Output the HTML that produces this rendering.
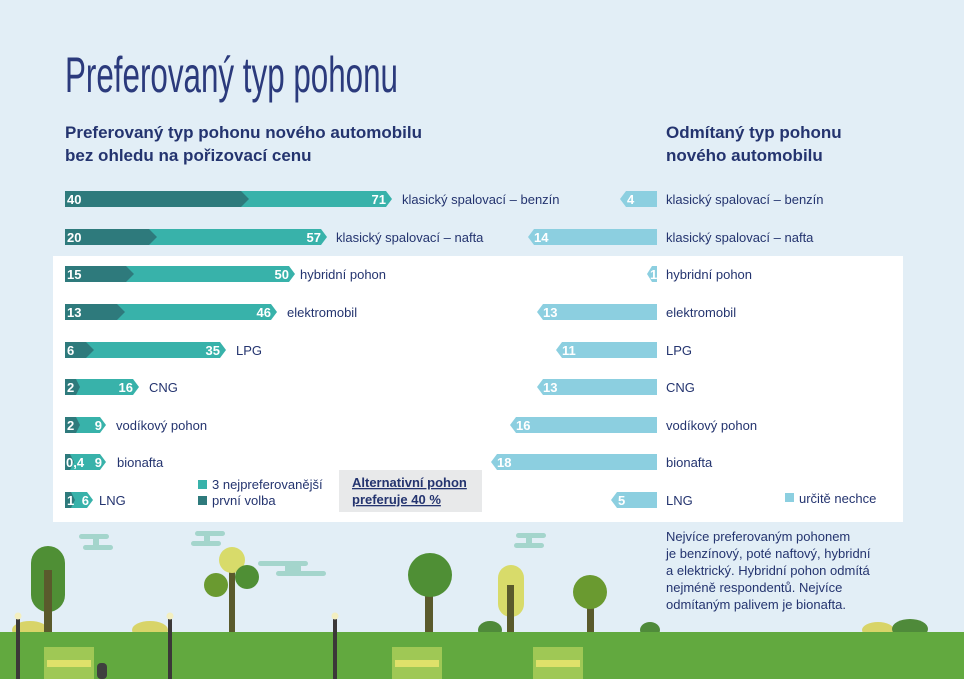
<!DOCTYPE html>
<html><head><meta charset="utf-8"><style>
html,body{margin:0;padding:0;background:#e2eef6;}
svg{display:block;font-family:"Liberation Sans",sans-serif;}
</style></head><body>
<svg width="964" height="679" viewBox="0 0 964 679" xmlns="http://www.w3.org/2000/svg">
<rect width="964" height="679" fill="#e2eef6"/>
<rect x="53" y="256" width="850" height="266" fill="#ffffff"/>
<text x="65" y="92" font-size="50" fill="#2b3a7c" font-weight="300" textLength="333" lengthAdjust="spacingAndGlyphs">Preferovaný typ pohonu</text>
<g font-size="17" font-weight="bold" fill="#24346f">
<text x="65" y="138">Preferovaný typ pohonu nového automobilu</text>
<text x="65" y="161">bez ohledu na pořizovací cenu</text>
<text x="666" y="138">Odmítaný typ pohonu</text>
<text x="666" y="161">nového automobilu</text>
</g>
<g id="left">
<polygon points="65,191 386,191 392,199 386,207 65,207" fill="#38b2aa"/>
<polygon points="65,191 241,191 249,199 241,207 65,207" fill="#2e7a7c"/>
<polygon points="65,229 321,229 327,237 321,245 65,245" fill="#38b2aa"/>
<polygon points="65,229 149,229 157,237 149,245 65,245" fill="#2e7a7c"/>
<polygon points="65,266 289,266 295,274 289,282 65,282" fill="#38b2aa"/>
<polygon points="65,266 126,266 134,274 126,282 65,282" fill="#2e7a7c"/>
<polygon points="65,304 271,304 277,312 271,320 65,320" fill="#38b2aa"/>
<polygon points="65,304 117,304 125,312 117,320 65,320" fill="#2e7a7c"/>
<polygon points="65,342 220,342 226,350 220,358 65,358" fill="#38b2aa"/>
<polygon points="65,342 86,342 94,350 86,358 65,358" fill="#2e7a7c"/>
<polygon points="65,379 133,379 139,387 133,395 65,395" fill="#38b2aa"/>
<polygon points="65,379 76,379 80,387 76,395 65,395" fill="#2e7a7c"/>
<polygon points="65,417 100,417 106,425 100,433 65,433" fill="#38b2aa"/>
<polygon points="65,417 76,417 80,425 76,433 65,433" fill="#2e7a7c"/>
<polygon points="65,454 100,454 106,462 100,470 65,470" fill="#38b2aa"/>
<polygon points="65,454 70,454 74,462 70,470 65,470" fill="#2e7a7c"/>
<polygon points="65,492 87,492 93,500 87,508 65,508" fill="#38b2aa"/>
<polygon points="65,492 71,492 75,500 71,508 65,508" fill="#2e7a7c"/>
</g>
<g font-size="13" font-weight="bold" fill="#ffffff">
<text x="67" y="204">40</text><text x="386" y="204" text-anchor="end">71</text>
<text x="67" y="242">20</text><text x="321" y="242" text-anchor="end">57</text>
<text x="67" y="279">15</text><text x="289" y="279" text-anchor="end">50</text>
<text x="67" y="317">13</text><text x="271" y="317" text-anchor="end">46</text>
<text x="67" y="355">6</text><text x="220" y="355" text-anchor="end">35</text>
<text x="67" y="392">2</text><text x="133" y="392" text-anchor="end">16</text>
<text x="67" y="430">2</text><text x="102" y="430" text-anchor="end">9</text>
<text x="66" y="467">0,4</text><text x="102" y="467" text-anchor="end">9</text>
<text x="67" y="505">1</text><text x="89" y="505" text-anchor="end">6</text>
</g>
<g font-size="13" fill="#24346f">
<text x="402" y="204">klasický spalovací – benzín</text>
<text x="336" y="242">klasický spalovací – nafta</text>
<text x="300" y="279">hybridní pohon</text>
<text x="287" y="317">elektromobil</text>
<text x="236" y="355">LPG</text>
<text x="149" y="392">CNG</text>
<text x="116" y="430">vodíkový pohon</text>
<text x="117" y="467">bionafta</text>
<text x="99" y="505">LNG</text>
</g>
<g fill="#8ccfe0">
<polygon points="657,191 626,191 620,199 626,207 657,207"/>
<polygon points="657,229 534,229 528,237 534,245 657,245"/>
<polygon points="657,266 652,266 647,274 652,282 657,282"/>
<polygon points="657,304 543,304 537,312 543,320 657,320"/>
<polygon points="657,342 562,342 556,350 562,358 657,358"/>
<polygon points="657,379 543,379 537,387 543,395 657,395"/>
<polygon points="657,417 516,417 510,425 516,433 657,433"/>
<polygon points="657,454 497,454 491,462 497,470 657,470"/>
<polygon points="657,492 617,492 611,500 617,508 657,508"/>
</g>
<g font-size="13" font-weight="bold" fill="#ffffff">
<text x="627" y="204">4</text><text x="534" y="242">14</text><text x="650" y="279">1</text>
<text x="543" y="317">13</text><text x="562" y="355">11</text><text x="543" y="392">13</text>
<text x="516" y="430">16</text><text x="497" y="467">18</text><text x="618" y="505">5</text>
</g>
<g font-size="13" fill="#24346f">
<text x="666" y="204">klasický spalovací – benzín</text>
<text x="666" y="242">klasický spalovací – nafta</text>
<text x="666" y="279">hybridní pohon</text>
<text x="666" y="317">elektromobil</text>
<text x="666" y="355">LPG</text>
<text x="666" y="392">CNG</text>
<text x="666" y="430">vodíkový pohon</text>
<text x="666" y="467">bionafta</text>
<text x="666" y="505">LNG</text>
</g>
<rect x="198" y="480" width="9" height="9" fill="#38b2aa"/>
<rect x="198" y="496" width="9" height="9" fill="#2e7a7c"/>
<rect x="785" y="493" width="9" height="9" fill="#8ccfe0"/>
<g font-size="13" fill="#24346f">
<text x="212" y="489">3 nejpreferovanější</text>
<text x="212" y="505">první volba</text>
<text x="799" y="503">určitě nechce</text>
</g>
<rect x="339" y="470" width="143" height="42" fill="#e8e9ea"/>
<g font-size="13" font-weight="bold" fill="#24346f" text-decoration="underline">
<text x="352" y="487">Alternativní pohon</text>
<text x="352" y="504">preferuje 40 %</text>
</g>
<g font-size="13" fill="#24346f">
<text x="666" y="541">Nejvíce preferovaným pohonem</text>
<text x="666" y="558">je benzínový, poté naftový, hybridní</text>
<text x="666" y="575">a elektrický. Hybridní pohon odmítá</text>
<text x="666" y="592">nejméně respondentů. Nejvíce</text>
<text x="666" y="609">odmítaným palivem je bionafta.</text>
</g>
<!-- clouds -->
<g fill="#a4d5cc">
<rect x="79" y="534" width="30" height="5" rx="2.5"/><rect x="83" y="545" width="30" height="5" rx="2.5"/><rect x="93" y="537" width="6" height="10"/>
<rect x="195" y="531" width="30" height="5" rx="2.5"/><rect x="191" y="541" width="30" height="5" rx="2.5"/><rect x="204" y="534" width="6" height="10"/>
<rect x="258" y="561" width="50" height="5" rx="2.5"/><rect x="276" y="571" width="50" height="5" rx="2.5"/><rect x="285" y="564" width="16" height="10"/>
<rect x="516" y="533" width="30" height="5" rx="2.5"/><rect x="514" y="543" width="30" height="5" rx="2.5"/><rect x="526" y="535" width="6" height="10"/>
</g>
<!-- bushes -->
<g>
<ellipse cx="30" cy="630" rx="18" ry="9" fill="#d8d468"/>
<ellipse cx="150" cy="630" rx="18" ry="9" fill="#d8d468"/>
<ellipse cx="878" cy="630" rx="16" ry="8" fill="#d8d468"/>
<ellipse cx="910" cy="629" rx="18" ry="10" fill="#4f8a3a"/>
<ellipse cx="650" cy="630" rx="10" ry="8" fill="#4f8a3a"/>
<ellipse cx="490" cy="630" rx="12" ry="9" fill="#4f8a3a"/>
</g>
<!-- trees -->
<rect x="31" y="546" width="34" height="66" rx="17" fill="#4f8f35"/>
<rect x="44" y="570" width="8" height="62" fill="#5a5a2c"/>
<rect x="229" y="568" width="6" height="64" fill="#5a5a2c"/>
<circle cx="232" cy="560" r="13" fill="#d8db6a"/>
<circle cx="216" cy="585" r="12" fill="#6a9a30"/>
<circle cx="247" cy="577" r="12" fill="#4f8f35"/>
<rect x="425" y="585" width="8" height="47" fill="#5a5a2c"/>
<circle cx="430" cy="575" r="22" fill="#4f8f35"/>
<rect x="498" y="565" width="26" height="52" rx="13" fill="#d8db6a"/>
<rect x="507" y="585" width="7" height="47" fill="#5a5a2c"/>
<rect x="587" y="603" width="7" height="29" fill="#5a5a2c"/>
<circle cx="590" cy="592" r="17" fill="#6a9a30"/>
<!-- grass -->
<rect x="0" y="632" width="964" height="47" fill="#62a93f"/>
<!-- benches -->
<g>
<rect x="44" y="647" width="50" height="32" fill="#9fc855"/><rect x="47" y="660" width="44" height="7" fill="#dfe16a"/>
<rect x="392" y="647" width="50" height="32" fill="#9fc855"/><rect x="395" y="660" width="44" height="7" fill="#dfe16a"/>
<rect x="533" y="647" width="50" height="32" fill="#9fc855"/><rect x="536" y="660" width="44" height="7" fill="#dfe16a"/>
<rect x="97" y="663" width="10" height="16" rx="4" fill="#3f3f3f"/>
</g>
<!-- lamps -->
<g fill="#3b3838">
<rect x="16" y="619" width="4" height="60"/><circle cx="18" cy="616" r="3.5" fill="#f3efc0"/>
<rect x="168" y="619" width="4" height="60"/><circle cx="170" cy="616" r="3.5" fill="#f3efc0"/>
<rect x="333" y="619" width="4" height="60"/><circle cx="335" cy="616" r="3.5" fill="#f3efc0"/>
</g>
</svg>
</body></html>
